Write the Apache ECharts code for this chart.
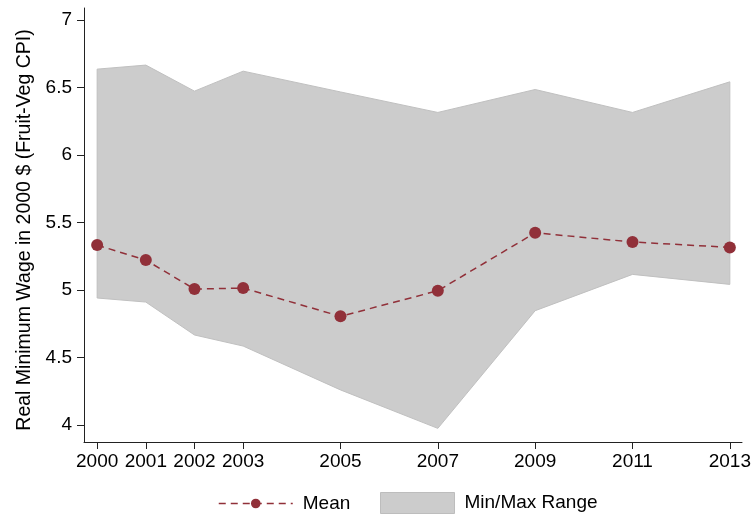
<!DOCTYPE html>
<html>
<head>
<meta charset="utf-8">
<script src="https://cdn.jsdelivr.net/npm/echarts@6/dist/echarts.min.js"></script>
<style>html,body{margin:0;padding:0;background:#fff}#c{width:755px;height:520px}</style>
</head>
<body>
<div id="c"></div>
<script>
const years = [2000, 2001, 2002, 2003, 2005, 2007, 2009, 2011, 2013];
const meanVals = [5.333, 5.222, 5.007, 5.015, 4.805, 4.995, 5.424, 5.356, 5.316];
const maxVals = [6.637, 6.667, 6.474, 6.622, 6.468, 6.316, 6.486, 6.316, 6.543];
const minVals = [4.941, 4.911, 4.667, 4.585, 4.26, 3.975, 4.847, 5.116, 5.042];
const yTicks = [4, 4.5, 5, 5.5, 6, 6.5, 7];
const xTicks = [2000, 2001, 2002, 2003, 2005, 2007, 2009, 2011, 2013];

const FONT = 'Liberation Sans, Arial, Helvetica, sans-serif';
const RED = '#913039';
const GRAY = '#cccccc';

const chart = echarts.init(document.getElementById('c'), null, {renderer: 'canvas'});
chart.setOption({
  animation: false,
  backgroundColor: '#fff',
  grid: {left: 84, right: 13, top: 8, bottom: 78, containLabel: false},
  xAxis: {
    type: 'value', min: 1999.73, max: 2013.25,
    axisLine: {show: true, lineStyle: {color: '#222', width: 1}},
    axisTick: {show: true, length: 7, customValues: xTicks, lineStyle: {color: '#222'}},
    axisLabel: {customValues: xTicks, color: '#000', fontSize: 19, fontFamily: FONT, margin: 10,
      formatter: v => String(v)},
    splitLine: {show: false}
  },
  yAxis: {
    type: 'value', min: 3.874, max: 7.09,
    name: 'Real Minimum Wage in 2000 $ (Fruit-Veg CPI)',
    nameLocation: 'middle', nameGap: 47, nameRotate: 90,
    nameTextStyle: {color: '#000', fontSize: 19.5, fontFamily: FONT, padding: [0, 10, 0, 0]},
    axisLine: {show: true, lineStyle: {color: '#222', width: 1}},
    axisTick: {show: true, length: 7, customValues: yTicks, lineStyle: {color: '#222'}},
    axisLabel: {customValues: yTicks, color: '#000', fontSize: 19, fontFamily: FONT, margin: 12,
      formatter: v => String(v)},
    splitLine: {show: false}
  },
  legend: [
    {
      left: 218, top: 494, padding: 0, itemWidth: 74, itemHeight: 12,
      lineStyle: {type: [7, 5], width: 1.5, color: RED},
      textStyle: {color: '#000', fontSize: 19, fontFamily: FONT, padding: [0, 0, 0, 5]},
      data: [{name: 'Mean'}]
    },
    {
      left: 380, top: 492, padding: 0, itemWidth: 74, itemHeight: 21,
      textStyle: {color: '#000', fontSize: 19, fontFamily: FONT, padding: [0, 0, 0, 5]},
      data: [{name: 'Min/Max Range', icon: 'rect', itemStyle: {color: GRAY, borderColor: '#bdbdbd', borderWidth: 1}}]
    }
  ],
  series: [
    {
      name: 'Min/Max Range', type: 'custom',
      itemStyle: {color: GRAY},
      data: [0],
      renderItem: function (params, api) {
        const pts = [];
        for (let i = 0; i < years.length; i++) pts.push(api.coord([years[i], maxVals[i]]));
        for (let i = years.length - 1; i >= 0; i--) pts.push(api.coord([years[i], minVals[i]]));
        return {
          type: 'polygon',
          shape: {points: pts},
          style: {fill: GRAY, stroke: '#c0c0c0', lineWidth: 1}
        };
      },
      z: 1, silent: true
    },
    {
      name: 'Mean', type: 'line',
      data: years.map((y, i) => [y, meanVals[i]]),
      symbol: 'circle', symbolSize: 12,
      itemStyle: {color: RED},
      lineStyle: {color: RED, width: 1.5, type: [7, 5]},
      z: 3
    }
  ]
});
</script>
</body>
</html>
